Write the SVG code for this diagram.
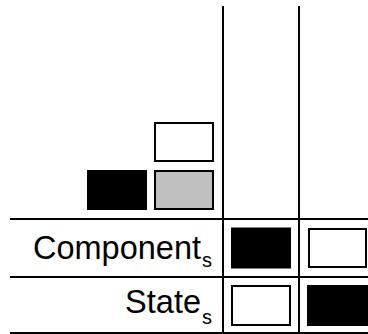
<svg xmlns="http://www.w3.org/2000/svg" width="368" height="334" viewBox="0 0 368 334">
<style>
.ln{stroke:#000;stroke-width:2;fill:none}
.bw{fill:#fff;stroke:#000;stroke-width:2}
.bb{fill:#000;stroke:#000;stroke-width:2}
.bg{fill:#c0c0c0;stroke:#000;stroke-width:2}
.lbl{font-family:"Liberation Sans",Arial,sans-serif;font-size:32.5px;fill:#000}
.sub{font-family:"Liberation Sans",Arial,sans-serif;font-size:20px;fill:#000}
</style>
<rect width="368" height="334" fill="#fff"/>
<g id="connectors">
<line class="ln" x1="223" y1="6" x2="223" y2="334"/>
<line class="ln" x1="299" y1="6" x2="299" y2="334"/>
<line class="ln" x1="10" y1="219" x2="368" y2="219"/>
<line class="ln" x1="10" y1="277" x2="368" y2="277"/>
<line class="ln" x1="10" y1="333" x2="368" y2="333"/>
</g>
<g id="legend-white"><rect class="bw" x="155" y="123" width="58" height="38"/></g>
<g id="legend-black"><rect class="bb" x="88" y="171" width="58" height="38"/></g>
<g id="legend-gray"><rect class="bg" x="155" y="171" width="58" height="38"/></g>
<g id="label-component">
<text class="lbl" x="201" y="259" text-anchor="end">Component</text>
<text class="sub" x="202" y="267">s</text>
</g>
<g id="label-state">
<text class="lbl" x="201" y="313" text-anchor="end">State</text>
<text class="sub" x="202" y="324">s</text>
</g>
<g id="cell-c1"><rect class="bb" x="232" y="228.5" width="58" height="39"/></g>
<g id="cell-c2"><rect class="bw" x="309" y="229" width="57" height="38"/></g>
<g id="cell-s1"><rect class="bw" x="232" y="286" width="58" height="39"/></g>
<g id="cell-s2"><rect class="bb" x="308" y="286" width="62" height="39"/></g>
</svg>
